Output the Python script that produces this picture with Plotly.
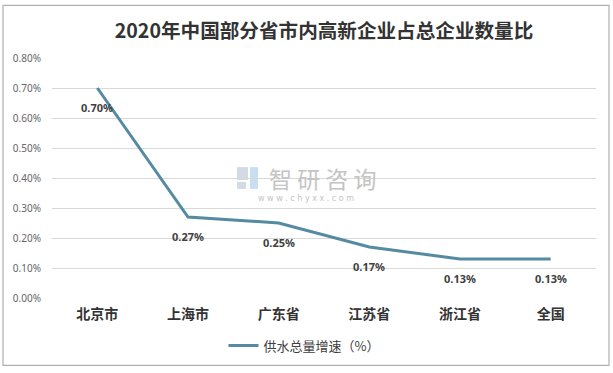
import plotly.graph_objects as go

categories = ["北京市", "上海市", "广东省", "江苏省", "浙江省", "全国"]
values = [0.70, 0.27, 0.25, 0.17, 0.13, 0.13]
value_labels = ["0.70%", "0.27%", "0.25%", "0.17%", "0.13%", "0.13%"]
y_ticks = [0.0, 0.1, 0.2, 0.3, 0.4, 0.5, 0.6, 0.7, 0.8]
y_tick_labels = ["0.00%", "0.10%", "0.20%", "0.30%", "0.40%", "0.50%", "0.60%", "0.70%", "0.80%"]
series_name = "供水总量增速（%）"
title_text = "2020年中国部分省市内高新企业占总企业数量比"

W, H = 613, 373
L, R, T, B = 52, 17, 58, 73
pw = W - L - R
ph = H - T - B


def px_x(x):
    return (x - L) / pw


def px_y(y):
    return (H - B - y) / ph


fig = go.Figure()
fig.add_trace(go.Scatter(
    x=categories, y=values, mode="lines", name=series_name,
    line=dict(color="#558BA2", width=3),
    hoverinfo="skip",
))

annotations = []
for c, v, t in zip(categories, values, value_labels):
    annotations.append(dict(
        x=c, y=v, xref="x", yref="y", text=t, showarrow=False,
        yshift=-19, font=dict(family="Noto Sans, DejaVu Sans, sans-serif", size=11, color="#404040", weight="bold"),
    ))

# watermark
annotations.append(dict(
    x=px_x(322), y=px_y(179), xref="paper", yref="paper", text="智 研 咨 询", showarrow=False,
    font=dict(family="Noto Sans CJK SC", size=23, color="#C4C4C4"), xanchor="center", yanchor="middle",
))
annotations.append(dict(
    x=px_x(306), y=px_y(200), xref="paper", yref="paper",
    text="w w w . c h y x x . c o m", showarrow=False,
    font=dict(family="DejaVu Sans", size=8, color="#C4C4C4"), xanchor="center", yanchor="middle",
))

shapes = [
    dict(type="rect", xref="paper", yref="paper",
         x0=px_x(3), x1=px_x(609), y0=px_y(368), y1=px_y(5),
         line=dict(color="#B0B0B0", width=1.2), fillcolor="rgba(0,0,0,0)", layer="below"),
    # watermark logo
    dict(type="rect", xref="paper", yref="paper",
         x0=px_x(237), x1=px_x(248), y0=px_y(181), y1=px_y(168),
         line=dict(width=0), fillcolor="#D3DAE6", layer="below"),
    dict(type="rect", xref="paper", yref="paper",
         x0=px_x(237), x1=px_x(246), y0=px_y(190), y1=px_y(183),
         line=dict(width=0), fillcolor="#D3DAE6", layer="below"),
    dict(type="rect", xref="paper", yref="paper",
         x0=px_x(250), x1=px_x(258), y0=px_y(190), y1=px_y(168),
         line=dict(width=0), fillcolor="#C6E0F2", layer="below"),
]

fig.update_layout(
    width=W, height=H,
    margin=dict(l=L, r=R, t=T, b=B, pad=0),
    paper_bgcolor="white", plot_bgcolor="white",
    title=dict(text=title_text, x=0.5, xanchor="center", xref="paper",
               y=1 - 31 / H, yref="container", yanchor="middle",
               font=dict(family="Noto Sans CJK SC", size=19.6, color="#333333", weight="bold")),
    xaxis=dict(
        type="category", range=[-0.5, len(categories) - 0.5],
        showgrid=False, zeroline=False, showline=False,
        ticks="", ticklabelstandoff=6,
        tickfont=dict(family="Noto Sans CJK SC", size=14, color="#333333", weight="bold"),
    ),
    yaxis=dict(
        range=[0, 0.8], tickvals=y_ticks, ticktext=y_tick_labels,
        showgrid=True, gridcolor="#D9D9D9", gridwidth=1, zeroline=False, showline=False,
        ticks="", ticklabelstandoff=10,
        tickfont=dict(family="Noto Sans, DejaVu Sans, sans-serif", size=10, color="#666666"),
    ),
    showlegend=True,
    legend=dict(orientation="h", x=px_x(304), xanchor="center", y=px_y(348), yanchor="middle",
                font=dict(family="Noto Sans CJK SC", size=13, color="#404040"),
                bgcolor="rgba(0,0,0,0)", itemwidth=30),
    annotations=annotations,
    shapes=shapes,
)

fig.write_html("out.html", config={"displayModeBar": False},
               post_script="document.body.style.margin='0';")
